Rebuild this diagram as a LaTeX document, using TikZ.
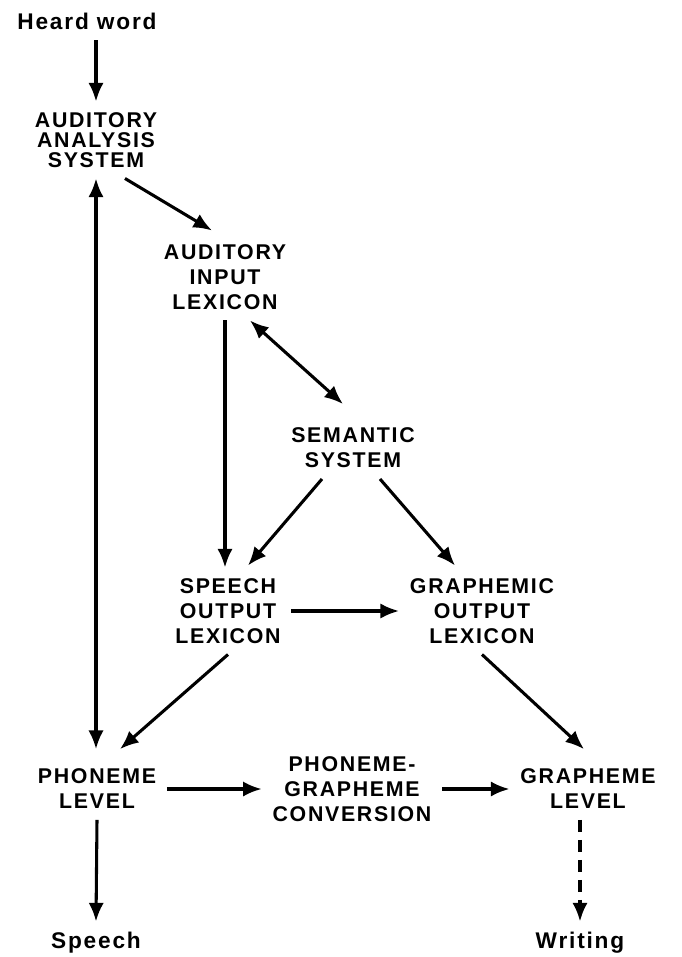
\documentclass[tikz,border=0pt]{standalone}
\usepackage{fontspec}
\newfontfamily\diagfont[LetterSpace=8]{Liberation Sans}
\usetikzlibrary{positioning}
\usetikzlibrary{calc}
\usetikzlibrary{arrows.meta}

\begin{document}
\begin{tikzpicture}[
    x=0.75pt, y=-0.75pt,
    stage/.style={align=center, inner sep=8pt, font=\diagfont\bfseries\fontsize{16}{18.75}\selectfont},
    tight/.style={font=\diagfont\bfseries\fontsize{16}{15}\selectfont},
    word/.style={font=\diagfont\bfseries\fontsize{17}{18.75}\selectfont},
    flow/.style={line width=2.3pt, -{Latex[length=14pt,width=11.5pt]}},
    twoway/.style={line width=2.3pt, {Latex[length=14pt,width=11.5pt]}-{Latex[length=14pt,width=11.5pt]}},
  ]

  \useasboundingbox (0,0) rectangle (682,957);

  \node [stage, word] (heard) at (87,21) {Heard word};
  \node [stage, tight] (aas) at (96,140) {AUDITORY\\ANALYSIS\\SYSTEM};
  \node [stage] (ail) at (225,277) {AUDITORY\\INPUT\\LEXICON};
  \node [stage] (sem) at (353,448) {SEMANTIC\\SYSTEM};
  \node [stage] (sol) at (228,611) {SPEECH\\OUTPUT\\LEXICON};
  \node [stage] (gol) at (482,611) {GRAPHEMIC\\OUTPUT\\LEXICON};
  \node [stage] (pl) at (97,789) {PHONEME\\LEVEL};
  \node [stage] (pgc) at (352,789) {PHONEME-\\GRAPHEME\\CONVERSION};
  \node [stage] (gl) at (588,789) {GRAPHEME\\LEVEL};
  \node [stage, word] (speech) at (96,943) {Speech};
  \node [stage, word] (writing) at (580,943) {Writing};

  \draw [flow] (heard.south -| aas.north) -- (aas.north);
  \draw [twoway] (aas.south) -- ($(aas.south |- pl.north)+(0,-9)$);
  \draw [flow] ($(aas.south)+(29,0)$) -- ($(ail.north)+(-13,-3)$);
  \draw [flow] (ail.south) -- (ail.south |- sol.north);
  \draw [twoway] ($(ail.south)+(25,0)$) -- ($(sem.north)+(-10,-13)$);
  \draw [flow] ($(sem.south)+(-31,0)$) -- ($(sol.north)+(20,-2)$);
  \draw [flow] ($(sem.south)+(27,0)$) -- ($(gol.north)+(-27,-2)$);
  \draw [flow] (sol) -- (gol);
  \draw [flow] (sol.south) -- ($(pl.north)+(23,-9)$);
  \draw [flow] (gol.south) -- ($(gl.north)+(-4,-9)$);
  \draw [flow] (pl) -- (pgc);
  \draw [flow] (pgc) -- (gl);
  \draw [flow] (pl.south) -- (speech.north);
  \draw [flow, dash pattern=on 9pt off 6pt] (writing.north |- gl.south) -- (writing.north);

\end{tikzpicture}
\end{document}
